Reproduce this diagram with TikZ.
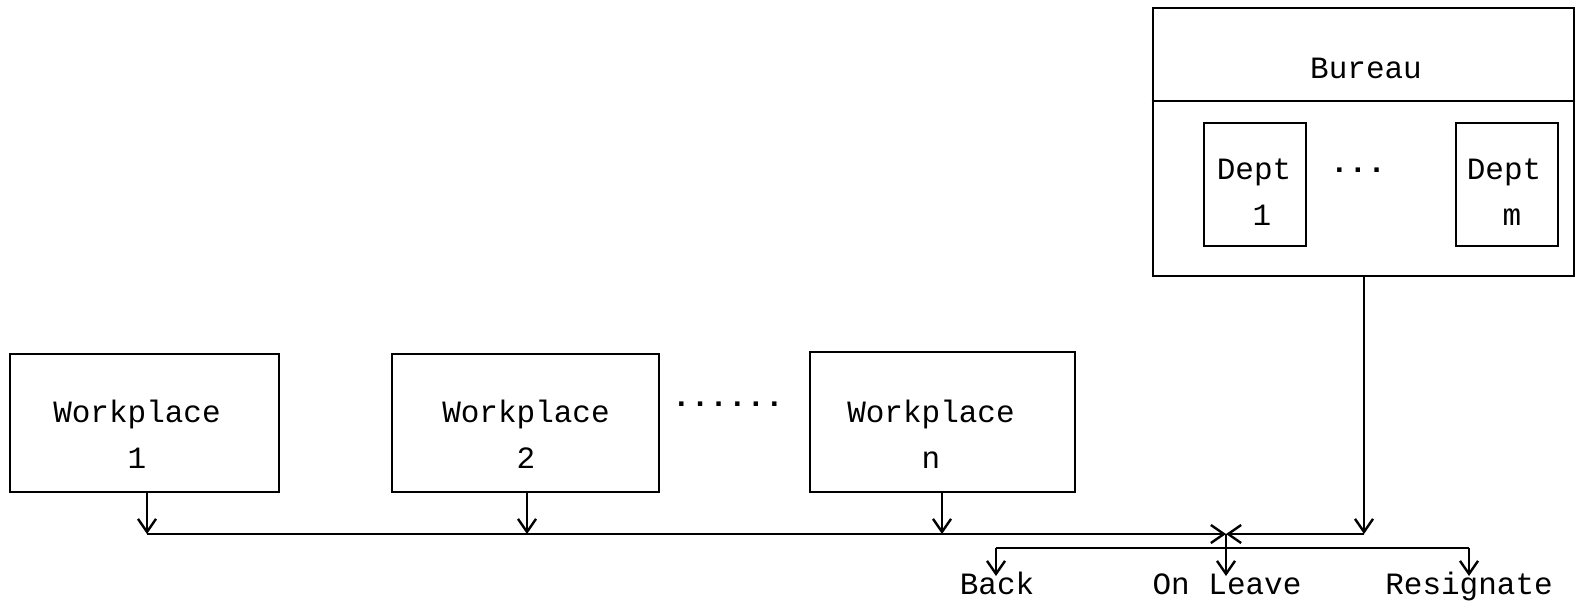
\documentclass[tikz,border=0pt]{standalone}
\usepackage{fontspec}
\setmonofont{Liberation Mono}
\usetikzlibrary{arrows.meta,calc}
\begin{document}
\begin{tikzpicture}[x=1pt,y=-1pt,
  line width=2.6pt,
  font=\ttfamily\fontsize{31}{46}\selectfont,
  box/.style={draw,rectangle,inner sep=0pt},
  lbl/.style={inner sep=0pt,align=center},
  dots/.style={inner sep=0pt,font=\ttfamily\bfseries\fontsize{31}{46}\selectfont},
  flow/.style={-{Straight Barb[length=13pt,width=18pt,line width=2.4pt]}}]
\useasboundingbox[fill=white] (0,0) rectangle (1589,606);

% workplaces
\node[box,minimum width=269pt,minimum height=138pt] (wp1) at (144.5,423) {};
\node[box,minimum width=267pt,minimum height=138pt] (wp2) at (525.5,423) {};
\node[box,minimum width=265pt,minimum height=140pt] (wpn) at (942.5,422) {};
\node[lbl] (wp1t) at (137,434) {Workplace\\1};
\node[lbl] (wp2t) at (526,434) {Workplace\\2};
\node[lbl] (wpnt) at (931,434) {Workplace\\n};
\node[dots] (wdots) at (728,404) {......};

% bureau with departments
\node[box,minimum width=421pt,minimum height=268pt] (bur) at (1363.5,142) {};
\draw (bur.west |- 0,101) -- (bur.east |- 0,101);
\node[lbl] (burt) at (1366,68) {Bureau};
\node[box,minimum width=102pt,minimum height=123pt] (d1) at (1255,184.5) {};
\node[box,minimum width=102pt,minimum height=123pt] (dm) at (1507,184.5) {};
\node[lbl] (d1t) at (1254,192) {Dept\\\hspace*{16pt}1};
\node[lbl] (dmt) at (1504,192) {Dept\\\hspace*{16pt}m};
\node[dots] (ddots) at (1358,170) {...};

% junctions
\coordinate (bl) at (147,534);
\coordinate (b2) at (527,534);
\coordinate (bn) at (942,534);
\coordinate (jc) at (1226,534);
\coordinate (br) at (1364,534);
\coordinate (ll) at (996,548);
\coordinate (lc) at (1226,548);
\coordinate (lr) at (1469,548);

% outcomes
\node[lbl,anchor=base] (back) at (997,594) {Back};
\node[lbl,anchor=base] (leave) at (1227,594) {On Leave};
\node[lbl,anchor=base] (resig) at (1469,594) {Resignate};

% connectors
\draw[flow] (wp1.south -| bl) -- (bl);
\draw[flow] (wp2.south -| b2) -- (b2);
\draw[flow] (wpn.south -| bn) -- (bn);
\draw[flow] (bl) -- (jc);
\draw[flow] (bur.south -| br) -- (br);
\draw[flow] (br) -- (jc);
\draw[flow] (jc) -- (jc |- 0,576);
\draw (ll) -- (lr);
\draw[flow] (ll) -- (ll |- 0,576);
\draw[flow] (lr) -- (lr |- 0,576);
\end{tikzpicture}
\end{document}
